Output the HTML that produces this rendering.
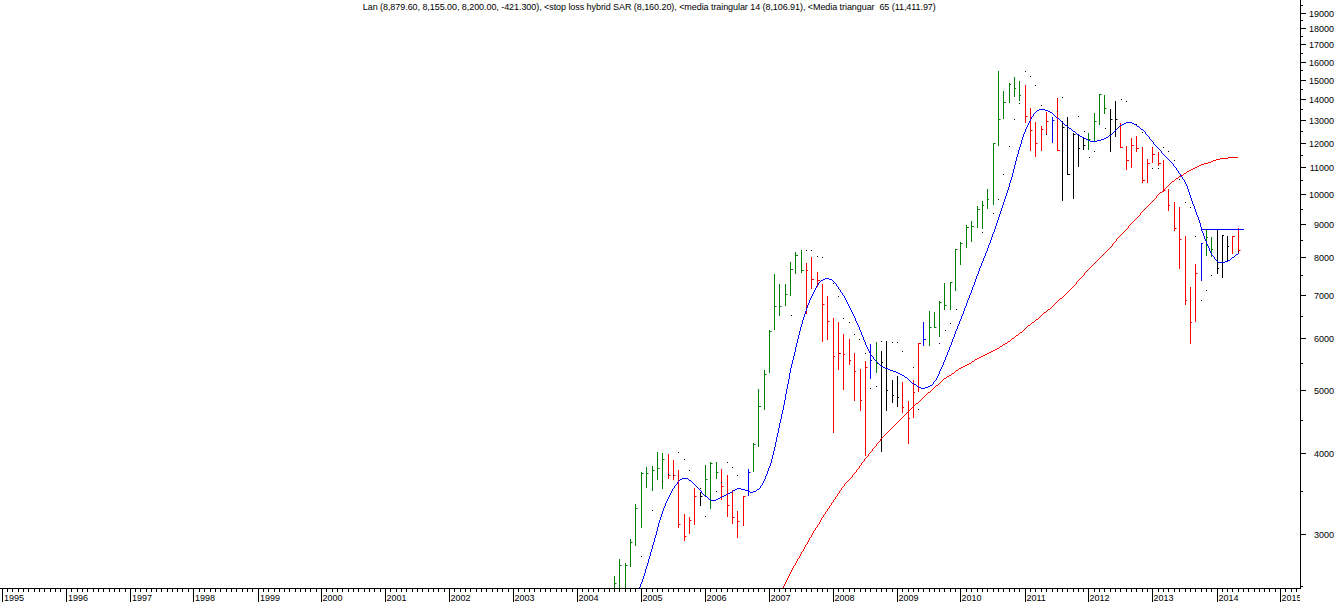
<!DOCTYPE html>
<html><head><meta charset="utf-8"><title>chart</title>
<style>
html,body{margin:0;padding:0;background:#fff;}
body{width:1338px;height:604px;overflow:hidden;position:relative;font-family:"Liberation Sans",sans-serif;}
svg{position:absolute;left:0;top:0;}
text{font-family:"Liberation Sans",sans-serif;font-size:9px;fill:#000;}
</style></head><body>
<svg width="1338" height="604" viewBox="0 0 1338 604">
<defs><clipPath id="cx"><rect x="0" y="580" width="1300" height="24"/></clipPath></defs>
<rect width="1338" height="604" fill="#fff"/>

<g shape-rendering="crispEdges">
<rect x="614" y="576" width="1" height="12" fill="#008000"/>
<rect x="615" y="583" width="1.5" height="1" fill="#008000" shape-rendering="auto"/>
<rect x="619" y="559" width="1" height="29" fill="#008000"/>
<rect x="620" y="565" width="1.5" height="1" fill="#008000" shape-rendering="auto"/>
<rect x="625" y="563" width="1" height="25" fill="#008000"/>
<rect x="626" y="565" width="1.5" height="1" fill="#008000" shape-rendering="auto"/>
<rect x="630" y="539" width="1" height="28" fill="#008000"/>
<rect x="631" y="542" width="1.5" height="1" fill="#008000" shape-rendering="auto"/>
<rect x="635" y="504" width="1" height="42" fill="#008000"/>
<rect x="636" y="508" width="1.5" height="1" fill="#008000" shape-rendering="auto"/>
<rect x="641" y="472" width="1" height="56" fill="#008000"/>
<rect x="642" y="473" width="1.5" height="1" fill="#008000" shape-rendering="auto"/>
<rect x="646" y="467" width="1" height="21" fill="#008000"/>
<rect x="647" y="473" width="1.5" height="1" fill="#008000" shape-rendering="auto"/>
<rect x="652" y="466" width="1" height="25" fill="#008000"/>
<rect x="653" y="470" width="1.5" height="1" fill="#008000" shape-rendering="auto"/>
<rect x="657" y="452" width="1" height="28" fill="#008000"/>
<rect x="658" y="468" width="1.5" height="1" fill="#008000" shape-rendering="auto"/>
<rect x="662" y="453" width="1" height="36" fill="#008000"/>
<rect x="663" y="459" width="1.5" height="1" fill="#008000" shape-rendering="auto"/>
<rect x="668" y="454" width="1" height="25" fill="#ff0000"/>
<rect x="669" y="475" width="1.5" height="1" fill="#ff0000" shape-rendering="auto"/>
<rect x="673" y="460" width="1" height="20" fill="#ff0000"/>
<rect x="674" y="475" width="1.5" height="1" fill="#ff0000" shape-rendering="auto"/>
<rect x="678" y="470" width="1" height="58" fill="#ff0000"/>
<rect x="679" y="524" width="1.5" height="1" fill="#ff0000" shape-rendering="auto"/>
<rect x="684" y="514" width="1" height="27" fill="#ff0000"/>
<rect x="685" y="536" width="1.5" height="1" fill="#ff0000" shape-rendering="auto"/>
<rect x="689" y="517" width="1" height="17" fill="#ff0000"/>
<rect x="690" y="520" width="1.5" height="1" fill="#ff0000" shape-rendering="auto"/>
<rect x="694" y="488" width="1" height="37" fill="#ff0000"/>
<rect x="695" y="496" width="1.5" height="1" fill="#ff0000" shape-rendering="auto"/>
<rect x="700" y="492" width="1" height="14" fill="#000000"/>
<rect x="701" y="496" width="1.5" height="1" fill="#000000" shape-rendering="auto"/>
<rect x="705" y="465" width="1" height="32" fill="#008000"/>
<rect x="706" y="479" width="1.5" height="1" fill="#008000" shape-rendering="auto"/>
<rect x="710" y="462" width="1" height="47" fill="#008000"/>
<rect x="711" y="463" width="1.5" height="1" fill="#008000" shape-rendering="auto"/>
<rect x="716" y="462" width="1" height="17" fill="#008000"/>
<rect x="717" y="472" width="1.5" height="1" fill="#008000" shape-rendering="auto"/>
<rect x="721" y="469" width="1" height="31" fill="#ff0000"/>
<rect x="722" y="486" width="1.5" height="1" fill="#ff0000" shape-rendering="auto"/>
<rect x="727" y="475" width="1" height="42" fill="#ff0000"/>
<rect x="728" y="505" width="1.5" height="1" fill="#ff0000" shape-rendering="auto"/>
<rect x="732" y="490" width="1" height="34" fill="#ff0000"/>
<rect x="733" y="517" width="1.5" height="1" fill="#ff0000" shape-rendering="auto"/>
<rect x="737" y="511" width="1" height="27" fill="#ff0000"/>
<rect x="738" y="521" width="1.5" height="1" fill="#ff0000" shape-rendering="auto"/>
<rect x="743" y="496" width="1" height="30" fill="#ff0000"/>
<rect x="744" y="496" width="1.5" height="1" fill="#ff0000" shape-rendering="auto"/>
<rect x="748" y="469" width="1" height="27" fill="#0000ff"/>
<rect x="749" y="472" width="1.5" height="1" fill="#0000ff" shape-rendering="auto"/>
<rect x="753" y="443" width="1" height="29" fill="#008000"/>
<rect x="754" y="444" width="1.5" height="1" fill="#008000" shape-rendering="auto"/>
<rect x="758" y="389" width="1" height="58" fill="#008000"/>
<rect x="759" y="406" width="2" height="1" fill="#008000"/>
<rect x="764" y="370" width="1" height="40" fill="#008000"/>
<rect x="765" y="374" width="1.5" height="1" fill="#008000" shape-rendering="auto"/>
<rect x="769" y="330" width="1" height="43" fill="#008000"/>
<rect x="770" y="331" width="1.5" height="1" fill="#008000" shape-rendering="auto"/>
<rect x="774" y="274" width="1" height="56" fill="#008000"/>
<rect x="775" y="306" width="1.5" height="1" fill="#008000" shape-rendering="auto"/>
<rect x="779" y="284" width="1" height="32" fill="#008000"/>
<rect x="780" y="306" width="1.5" height="1" fill="#008000" shape-rendering="auto"/>
<rect x="785" y="284" width="1" height="22" fill="#008000"/>
<rect x="786" y="294" width="1.5" height="1" fill="#008000" shape-rendering="auto"/>
<rect x="790" y="262" width="1" height="34" fill="#008000"/>
<rect x="791" y="269" width="2" height="1" fill="#008000"/>
<rect x="795" y="252" width="1" height="22" fill="#008000"/>
<rect x="796" y="255" width="2" height="1" fill="#008000"/>
<rect x="801" y="250" width="1" height="23" fill="#008000"/>
<rect x="802" y="270" width="2" height="1" fill="#008000"/>
<rect x="806" y="263" width="1" height="51" fill="#ff0000"/>
<rect x="807" y="270" width="1" height="1" fill="#ff0000"/>
<rect x="811" y="257" width="1" height="32" fill="#ff0000"/>
<rect x="812" y="279" width="2" height="1" fill="#ff0000"/>
<rect x="817" y="272" width="1" height="15" fill="#ff0000"/>
<rect x="818" y="280" width="2" height="1" fill="#ff0000"/>
<rect x="822" y="284" width="1" height="58" fill="#ff0000"/>
<rect x="823" y="304" width="1.5" height="1" fill="#ff0000" shape-rendering="auto"/>
<rect x="827" y="296" width="1" height="44" fill="#ff0000"/>
<rect x="828" y="321" width="1.5" height="1" fill="#ff0000" shape-rendering="auto"/>
<rect x="833" y="318" width="1" height="115" fill="#ff0000"/>
<rect x="834" y="356" width="1" height="1" fill="#ff0000"/>
<rect x="838" y="322" width="1" height="48" fill="#ff0000"/>
<rect x="839" y="353" width="2" height="1" fill="#ff0000"/>
<rect x="843" y="334" width="1" height="56" fill="#ff0000"/>
<rect x="844" y="354" width="1" height="1" fill="#ff0000"/>
<rect x="849" y="339" width="1" height="26" fill="#ff0000"/>
<rect x="850" y="360" width="1" height="1" fill="#ff0000"/>
<rect x="854" y="353" width="1" height="48" fill="#ff0000"/>
<rect x="855" y="371" width="1" height="1" fill="#ff0000"/>
<rect x="860" y="369" width="1" height="42" fill="#ff0000"/>
<rect x="861" y="400" width="1" height="1" fill="#ff0000"/>
<rect x="865" y="361" width="1" height="95" fill="#ff0000"/>
<rect x="866" y="367" width="1.5" height="1" fill="#ff0000" shape-rendering="auto"/>
<rect x="870" y="344" width="1" height="35" fill="#0000ff"/>
<rect x="871" y="360" width="1" height="1" fill="#0000ff"/>
<rect x="876" y="342" width="1" height="31" fill="#008000"/>
<rect x="877" y="363" width="1.5" height="1" fill="#008000" shape-rendering="auto"/>
<rect x="881" y="351" width="1" height="101" fill="#000000"/>
<rect x="882" y="362" width="1" height="1" fill="#000000"/>
<rect x="886" y="341" width="1" height="70" fill="#000000"/>
<rect x="887" y="390" width="1" height="1" fill="#000000"/>
<rect x="892" y="380" width="1" height="23" fill="#000000"/>
<rect x="893" y="395" width="1" height="1" fill="#000000"/>
<rect x="897" y="376" width="1" height="31" fill="#000000"/>
<rect x="898" y="397" width="1" height="1" fill="#000000"/>
<rect x="902" y="382" width="1" height="31" fill="#ff0000"/>
<rect x="903" y="407" width="1" height="1" fill="#ff0000"/>
<rect x="908" y="401" width="1" height="43" fill="#ff0000"/>
<rect x="909" y="418" width="1" height="1" fill="#ff0000"/>
<rect x="913" y="380" width="1" height="38" fill="#ff0000"/>
<rect x="914" y="392" width="1" height="1" fill="#ff0000"/>
<rect x="918" y="343" width="1" height="49" fill="#ff0000"/>
<rect x="919" y="343" width="2" height="1" fill="#ff0000"/>
<rect x="923" y="322" width="1" height="24" fill="#0000ff"/>
<rect x="924" y="339" width="2" height="1" fill="#0000ff"/>
<rect x="929" y="311" width="1" height="35" fill="#008000"/>
<rect x="930" y="327" width="1.5" height="1" fill="#008000" shape-rendering="auto"/>
<rect x="934" y="312" width="1" height="16" fill="#008000"/>
<rect x="935" y="327" width="1.5" height="1" fill="#008000" shape-rendering="auto"/>
<rect x="939" y="301" width="1" height="36" fill="#008000"/>
<rect x="940" y="302" width="1.5" height="1" fill="#008000" shape-rendering="auto"/>
<rect x="944" y="283" width="1" height="27" fill="#008000"/>
<rect x="945" y="305" width="1.5" height="1" fill="#008000" shape-rendering="auto"/>
<rect x="950" y="282" width="1" height="28" fill="#008000"/>
<rect x="951" y="282" width="1.5" height="1" fill="#008000" shape-rendering="auto"/>
<rect x="955" y="249" width="1" height="42" fill="#008000"/>
<rect x="956" y="249" width="1.5" height="1" fill="#008000" shape-rendering="auto"/>
<rect x="960" y="242" width="1" height="23" fill="#008000"/>
<rect x="961" y="243" width="1.5" height="1" fill="#008000" shape-rendering="auto"/>
<rect x="966" y="225" width="1" height="23" fill="#008000"/>
<rect x="967" y="227" width="2" height="1" fill="#008000"/>
<rect x="971" y="221" width="1" height="21" fill="#008000"/>
<rect x="972" y="226" width="2" height="1" fill="#008000"/>
<rect x="977" y="206" width="1" height="22" fill="#008000"/>
<rect x="978" y="209" width="2" height="1" fill="#008000"/>
<rect x="982" y="201" width="1" height="28" fill="#008000"/>
<rect x="983" y="205" width="1" height="1" fill="#008000"/>
<rect x="987" y="189" width="1" height="20" fill="#008000"/>
<rect x="988" y="199" width="1" height="1" fill="#008000"/>
<rect x="993" y="143" width="1" height="62" fill="#008000"/>
<rect x="994" y="143" width="1.5" height="1" fill="#008000" shape-rendering="auto"/>
<rect x="998" y="71" width="1" height="75" fill="#008000"/>
<rect x="999" y="119" width="1.5" height="1" fill="#008000" shape-rendering="auto"/>
<rect x="1003" y="91" width="1" height="28" fill="#008000"/>
<rect x="1004" y="102" width="2" height="1" fill="#008000"/>
<rect x="1009" y="83" width="1" height="20" fill="#008000"/>
<rect x="1010" y="84" width="1" height="1" fill="#008000"/>
<rect x="1014" y="77" width="1" height="20" fill="#008000"/>
<rect x="1015" y="88" width="1" height="1" fill="#008000"/>
<rect x="1019" y="81" width="1" height="20" fill="#008000"/>
<rect x="1020" y="95" width="1" height="1" fill="#008000"/>
<rect x="1025" y="85" width="1" height="38" fill="#ff0000"/>
<rect x="1026" y="116" width="1.5" height="1" fill="#ff0000" shape-rendering="auto"/>
<rect x="1030" y="108" width="1" height="43" fill="#ff0000"/>
<rect x="1031" y="130" width="1.5" height="1" fill="#ff0000" shape-rendering="auto"/>
<rect x="1035" y="122" width="1" height="35" fill="#ff0000"/>
<rect x="1036" y="143" width="1.5" height="1" fill="#ff0000" shape-rendering="auto"/>
<rect x="1041" y="126" width="1" height="25" fill="#ff0000"/>
<rect x="1042" y="129" width="1.5" height="1" fill="#ff0000" shape-rendering="auto"/>
<rect x="1046" y="112" width="1" height="23" fill="#ff0000"/>
<rect x="1047" y="121" width="1.5" height="1" fill="#ff0000" shape-rendering="auto"/>
<rect x="1052" y="117" width="1" height="26" fill="#0000ff"/>
<rect x="1053" y="120" width="1.5" height="1" fill="#0000ff" shape-rendering="auto"/>
<rect x="1057" y="98" width="1" height="53" fill="#ff0000"/>
<rect x="1058" y="150" width="2" height="1" fill="#ff0000"/>
<rect x="1062" y="121" width="1" height="80" fill="#000000"/>
<rect x="1063" y="127" width="1.5" height="1" fill="#000000" shape-rendering="auto"/>
<rect x="1067" y="117" width="1" height="58" fill="#000000"/>
<rect x="1068" y="174" width="2" height="1" fill="#000000"/>
<rect x="1073" y="133" width="1" height="66" fill="#000000"/>
<rect x="1074" y="134" width="1.5" height="1" fill="#000000" shape-rendering="auto"/>
<rect x="1078" y="135" width="1" height="32" fill="#000000"/>
<rect x="1079" y="148" width="1" height="1" fill="#000000"/>
<rect x="1083" y="138" width="1" height="12" fill="#000000"/>
<rect x="1084" y="145" width="1.5" height="1" fill="#000000" shape-rendering="auto"/>
<rect x="1088" y="133" width="1" height="17" fill="#008000"/>
<rect x="1089" y="139" width="1.5" height="1" fill="#008000" shape-rendering="auto"/>
<rect x="1094" y="113" width="1" height="28" fill="#008000"/>
<rect x="1095" y="121" width="1.5" height="1" fill="#008000" shape-rendering="auto"/>
<rect x="1099" y="94" width="1" height="31" fill="#008000"/>
<rect x="1100" y="94" width="1.5" height="1" fill="#008000" shape-rendering="auto"/>
<rect x="1104" y="95" width="1" height="19" fill="#008000"/>
<rect x="1105" y="108" width="1.5" height="1" fill="#008000" shape-rendering="auto"/>
<rect x="1110" y="109" width="1" height="43" fill="#000000"/>
<rect x="1111" y="119" width="1.5" height="1" fill="#000000" shape-rendering="auto"/>
<rect x="1115" y="101" width="1" height="36" fill="#000000"/>
<rect x="1116" y="119" width="1.5" height="1" fill="#000000" shape-rendering="auto"/>
<rect x="1120" y="123" width="1" height="25" fill="#ff0000"/>
<rect x="1121" y="147" width="2" height="1" fill="#ff0000"/>
<rect x="1126" y="146" width="1" height="24" fill="#ff0000"/>
<rect x="1127" y="160" width="2" height="1" fill="#ff0000"/>
<rect x="1131" y="138" width="1" height="30" fill="#ff0000"/>
<rect x="1132" y="145" width="2" height="1" fill="#ff0000"/>
<rect x="1136" y="136" width="1" height="16" fill="#ff0000"/>
<rect x="1137" y="148" width="2" height="1" fill="#ff0000"/>
<rect x="1142" y="147" width="1" height="36" fill="#ff0000"/>
<rect x="1143" y="180" width="2" height="1" fill="#ff0000"/>
<rect x="1147" y="159" width="1" height="24" fill="#ff0000"/>
<rect x="1148" y="163" width="2" height="1" fill="#ff0000"/>
<rect x="1152" y="147" width="1" height="16" fill="#ff0000"/>
<rect x="1153" y="154" width="2" height="1" fill="#ff0000"/>
<rect x="1158" y="152" width="1" height="14" fill="#ff0000"/>
<rect x="1159" y="163" width="2" height="1" fill="#ff0000"/>
<rect x="1163" y="160" width="1" height="32" fill="#ff0000"/>
<rect x="1164" y="190" width="1.5" height="1" fill="#ff0000" shape-rendering="auto"/>
<rect x="1168" y="189" width="1" height="22" fill="#ff0000"/>
<rect x="1169" y="205" width="1" height="1" fill="#ff0000"/>
<rect x="1174" y="202" width="1" height="29" fill="#ff0000"/>
<rect x="1175" y="228" width="1.5" height="1" fill="#ff0000" shape-rendering="auto"/>
<rect x="1179" y="207" width="1" height="62" fill="#ff0000"/>
<rect x="1180" y="239" width="1.5" height="1" fill="#ff0000" shape-rendering="auto"/>
<rect x="1185" y="236" width="1" height="69" fill="#ff0000"/>
<rect x="1186" y="300" width="1" height="1" fill="#ff0000"/>
<rect x="1190" y="287" width="1" height="57" fill="#ff0000"/>
<rect x="1191" y="322" width="1" height="1" fill="#ff0000"/>
<rect x="1195" y="264" width="1" height="58" fill="#ff0000"/>
<rect x="1196" y="273" width="1.5" height="1" fill="#ff0000" shape-rendering="auto"/>
<rect x="1201" y="243" width="1" height="38" fill="#0000ff"/>
<rect x="1202" y="243" width="1" height="1" fill="#0000ff"/>
<rect x="1206" y="229" width="1" height="27" fill="#008000"/>
<rect x="1207" y="237" width="1" height="1" fill="#008000"/>
<rect x="1211" y="237" width="1" height="20" fill="#008000"/>
<rect x="1212" y="249" width="1" height="1" fill="#008000"/>
<rect x="1217" y="229" width="1" height="45" fill="#000000"/>
<rect x="1218" y="268" width="1" height="1" fill="#000000"/>
<rect x="1222" y="235" width="1" height="43" fill="#000000"/>
<rect x="1223" y="235" width="1" height="1" fill="#000000"/>
<rect x="1227" y="236" width="1" height="25" fill="#000000"/>
<rect x="1228" y="246" width="1" height="1" fill="#000000"/>
<rect x="1232" y="236" width="1" height="18" fill="#ff0000"/>
<rect x="1233" y="236" width="2" height="1" fill="#ff0000"/>
<rect x="1238" y="228" width="1" height="25" fill="#ff0000"/>
<rect x="1239" y="250" width="1.5" height="1" fill="#ff0000" shape-rendering="auto"/>
<rect x="1238" y="251" width="1" height="1" fill="#000"/>
<rect x="668" y="474" width="1" height="1" fill="#000"/>
<rect x="673" y="475" width="1" height="1" fill="#000"/>
<rect x="652" y="510" width="1" height="1" fill="#000"/>
<rect x="641" y="556" width="1" height="1" fill="#000"/>
<rect x="705" y="516" width="1" height="1" fill="#000"/>
<rect x="700" y="488" width="1" height="1" fill="#000"/>
<rect x="716" y="491" width="1" height="1" fill="#000"/>
<rect x="662" y="481" width="1" height="1" fill="#000"/>
<rect x="721" y="482" width="1" height="1" fill="#000"/>
<rect x="737" y="475" width="1" height="1" fill="#000"/>
<rect x="678" y="452" width="1" height="1" fill="#000"/>
<rect x="684" y="459" width="1" height="1" fill="#000"/>
<rect x="689" y="470" width="1" height="1" fill="#000"/>
<rect x="727" y="462" width="1" height="1" fill="#000"/>
<rect x="732" y="467" width="1" height="1" fill="#000"/>
<rect x="865" y="353" width="1" height="1" fill="#000"/>
<rect x="870" y="388" width="1" height="1" fill="#000"/>
<rect x="876" y="386" width="1" height="1" fill="#000"/>
<rect x="806" y="250" width="1" height="1" fill="#000"/>
<rect x="811" y="250" width="1" height="1" fill="#000"/>
<rect x="817" y="256" width="1" height="1" fill="#000"/>
<rect x="822" y="257" width="1" height="1" fill="#000"/>
<rect x="833" y="283" width="1" height="1" fill="#000"/>
<rect x="838" y="296" width="1" height="1" fill="#000"/>
<rect x="843" y="318" width="1" height="1" fill="#000"/>
<rect x="849" y="322" width="1" height="1" fill="#000"/>
<rect x="854" y="334" width="1" height="1" fill="#000"/>
<rect x="859" y="339" width="1" height="1" fill="#000"/>
<rect x="865" y="353" width="1" height="1" fill="#000"/>
<rect x="791" y="315" width="1" height="1" fill="#000"/>
<rect x="881" y="341" width="1" height="1" fill="#000"/>
<rect x="892" y="342" width="1" height="1" fill="#000"/>
<rect x="897" y="342" width="1" height="1" fill="#000"/>
<rect x="902" y="351" width="1" height="1" fill="#000"/>
<rect x="939" y="343" width="1" height="1" fill="#000"/>
<rect x="945" y="330" width="1" height="1" fill="#000"/>
<rect x="950" y="323" width="1" height="1" fill="#000"/>
<rect x="956" y="309" width="1" height="1" fill="#000"/>
<rect x="982" y="232" width="1" height="1" fill="#000"/>
<rect x="913" y="367" width="1" height="1" fill="#000"/>
<rect x="918" y="409" width="1" height="1" fill="#000"/>
<rect x="924" y="396" width="1" height="1" fill="#000"/>
<rect x="1025" y="71" width="1" height="1" fill="#000"/>
<rect x="1030" y="76" width="1" height="1" fill="#000"/>
<rect x="1035" y="85" width="1" height="1" fill="#000"/>
<rect x="1062" y="97" width="1" height="1" fill="#000"/>
<rect x="1019" y="103" width="1" height="1" fill="#000"/>
<rect x="1041" y="105" width="1" height="1" fill="#000"/>
<rect x="1014" y="119" width="1" height="1" fill="#000"/>
<rect x="1057" y="111" width="1" height="1" fill="#000"/>
<rect x="1078" y="116" width="1" height="1" fill="#000"/>
<rect x="1084" y="131" width="1" height="1" fill="#000"/>
<rect x="1009" y="146" width="1" height="1" fill="#000"/>
<rect x="1003" y="174" width="1" height="1" fill="#000"/>
<rect x="1094" y="151" width="1" height="1" fill="#000"/>
<rect x="1089" y="157" width="1" height="1" fill="#000"/>
<rect x="1099" y="140" width="1" height="1" fill="#000"/>
<rect x="1105" y="128" width="1" height="1" fill="#000"/>
<rect x="1121" y="99" width="1" height="1" fill="#000"/>
<rect x="1126" y="101" width="1" height="1" fill="#000"/>
<rect x="1136" y="124" width="1" height="1" fill="#000"/>
<rect x="1142" y="132" width="1" height="1" fill="#000"/>
<rect x="1163" y="147" width="1" height="1" fill="#000"/>
<rect x="1168" y="151" width="1" height="1" fill="#000"/>
<rect x="1174" y="160" width="1" height="1" fill="#000"/>
<rect x="1152" y="168" width="1" height="1" fill="#000"/>
<rect x="1158" y="168" width="1" height="1" fill="#000"/>
<rect x="1052" y="134" width="1" height="1" fill="#000"/>
<rect x="1046" y="134" width="1" height="1" fill="#000"/>
<rect x="1179" y="179" width="1" height="1" fill="#000"/>
<rect x="998" y="199" width="1" height="1" fill="#000"/>
<rect x="993" y="213" width="1" height="1" fill="#000"/>
<rect x="982" y="232" width="1" height="1" fill="#000"/>
<rect x="1185" y="202" width="1" height="1" fill="#000"/>
<rect x="1190" y="207" width="1" height="1" fill="#000"/>
<rect x="1195" y="236" width="1" height="1" fill="#000"/>
<rect x="1211" y="275" width="1" height="1" fill="#000"/>
<rect x="1217" y="268" width="1" height="1" fill="#000"/>
<rect x="1201" y="300" width="1" height="1" fill="#000"/>
<rect x="1206" y="290" width="1" height="1" fill="#000"/>
</g>
<path d="M783.5 586v2M784.5 584v2M785.5 582v2M786.5 580v2M787.5 578v2M788.5 576v2M789.5 574v2M790.5 572v2M791.5 570v2M792.5 568v2M793.5 566v2M794.5 565v1M795.5 563v2M796.5 561v2M797.5 559v2M798.5 558v1M799.5 556v2M800.5 554v2M801.5 552v2M802.5 551v1M803.5 549v2M804.5 547v2M805.5 545v2M806.5 544v1M807.5 542v2M808.5 540v2M809.5 538v2M810.5 537v1M811.5 535v2M812.5 533v2M813.5 531v2M814.5 530v1M815.5 528v2M816.5 527v1M817.5 525v2M818.5 524v1M819.5 522v2M820.5 520v2M821.5 518v2M822.5 517v1M823.5 515v2M824.5 514v1M825.5 512v2M826.5 511v1M827.5 509v2M828.5 508v1M829.5 506v2M830.5 505v1M831.5 503v2M832.5 502v1M833.5 500v2M834.5 499v1M835.5 497v2M836.5 496v1M837.5 494v2M838.5 493v1M839.5 491v2M840.5 490v1M841.5 488v2M842.5 487v1M843.5 486v1M844.5 484v2M845.5 483v1M846.5 482v1M847.5 481v1M848.5 480v1M849.5 479v1M850.5 478v1M851.5 477v1M852.5 475v2M853.5 474v1M854.5 473v1M855.5 472v1M856.5 470v2M857.5 469v1M858.5 468v1M859.5 466v2M860.5 465v1M861.5 463v2M862.5 462v1M863.5 461v1M864.5 459v2M865.5 458v1M866.5 457v1M867.5 456v1M868.5 454v2M869.5 453v1M870.5 452v1M871.5 451v1M872.5 449v2M873.5 448v1M874.5 447v1M875.5 446v1M876.5 444v2M877.5 443v1M878.5 442v1M879.5 441v1M880.5 439v2M881.5 438v1M882.5 437v1M883.5 436v1M884.5 435v1M885.5 434v1M886.5 433v1M887.5 432v1M888.5 431v1M889.5 430v1M890.5 429v1M891.5 428v1M892.5 427v1M893.5 426v1M894.5 425v1M895.5 424v1M896.5 423v1M897.5 422v1M898.5 421v1M899.5 420v1M900.5 419v1M901.5 418v1M902.5 417v1M903.5 416v1M904.5 415v1M905.5 414v1M906.5 413v1M907.5 412v1M908.5 411v1M909.5 410v1M910.5 409v1M911.5 408v1M912.5 407v1M913.5 406v1M914.5 405v1M915.5 404v1M916.5 403v1M917.5 403v1M918.5 402v1M919.5 401v1M920.5 400v1M921.5 399v1M922.5 398v1M923.5 397v1M924.5 396v1M925.5 395v1M926.5 394v1M927.5 393v1M928.5 392v1M929.5 392v1M930.5 391v1M931.5 390v1M932.5 389v1M933.5 388v1M934.5 387v1M935.5 386v1M936.5 385v1M937.5 385v1M938.5 384v1M939.5 383v1M940.5 382v1M941.5 381v1M942.5 380v1M943.5 379v1M944.5 378v1M945.5 378v1M946.5 377v1M947.5 376v1M948.5 376v1M949.5 375v1M950.5 375v1M951.5 374v1M952.5 373v1M953.5 373v1M954.5 372v1M955.5 371v1M956.5 370v1M957.5 370v1M958.5 369v1M959.5 368v1M960.5 368v1M961.5 367v1M962.5 367v1M963.5 366v1M964.5 366v1M965.5 365v1M966.5 365v1M967.5 364v1M968.5 364v1M969.5 363v1M970.5 363v1M971.5 362v1M972.5 361v1M973.5 361v1M974.5 360v1M975.5 359v1M976.5 359v1M977.5 358v1M978.5 358v1M979.5 357v1M980.5 357v1M981.5 356v1M982.5 356v1M983.5 355v1M984.5 355v1M985.5 354v1M986.5 354v1M987.5 353v1M988.5 353v1M989.5 352v1M990.5 352v1M991.5 351v1M992.5 351v1M993.5 350v1M994.5 350v1M995.5 349v1M996.5 349v1M997.5 348v1M998.5 348v1M999.5 347v1M1000.5 346v1M1001.5 346v1M1002.5 345v1M1003.5 344v1M1004.5 344v1M1005.5 343v1M1006.5 343v1M1007.5 342v1M1008.5 341v1M1009.5 341v1M1010.5 340v1M1011.5 339v1M1012.5 338v1M1013.5 338v1M1014.5 337v1M1015.5 336v1M1016.5 335v1M1017.5 335v1M1018.5 334v1M1019.5 333v1M1020.5 332v1M1021.5 332v1M1022.5 331v1M1023.5 330v1M1024.5 329v1M1025.5 328v1M1026.5 327v1M1027.5 326v1M1028.5 325v1M1029.5 325v1M1030.5 324v1M1031.5 323v1M1032.5 322v1M1033.5 322v1M1034.5 321v1M1035.5 320v1M1036.5 319v1M1037.5 319v1M1038.5 318v1M1039.5 317v1M1040.5 316v1M1041.5 315v1M1042.5 314v1M1043.5 313v1M1044.5 312v1M1045.5 312v1M1046.5 311v1M1047.5 310v1M1048.5 309v1M1049.5 309v1M1050.5 308v1M1051.5 307v1M1052.5 306v1M1053.5 305v1M1054.5 304v1M1055.5 303v1M1056.5 302v1M1057.5 301v1M1058.5 300v1M1059.5 299v1M1060.5 298v1M1061.5 298v1M1062.5 297v1M1063.5 296v1M1064.5 295v1M1065.5 294v1M1066.5 293v1M1067.5 292v1M1068.5 291v1M1069.5 290v1M1070.5 289v1M1071.5 288v1M1072.5 287v1M1073.5 286v1M1074.5 285v1M1075.5 284v1M1076.5 282v2M1077.5 281v1M1078.5 280v1M1079.5 279v1M1080.5 278v1M1081.5 277v1M1082.5 276v1M1083.5 275v1M1084.5 273v2M1085.5 272v1M1086.5 271v1M1087.5 270v1M1088.5 269v1M1089.5 268v1M1090.5 267v1M1091.5 266v1M1092.5 265v1M1093.5 264v1M1094.5 263v1M1095.5 262v1M1096.5 261v1M1097.5 260v1M1098.5 259v1M1099.5 258v1M1100.5 257v1M1101.5 256v1M1102.5 255v1M1103.5 254v1M1104.5 253v1M1105.5 252v1M1106.5 251v1M1107.5 250v1M1108.5 249v1M1109.5 248v1M1110.5 247v1M1111.5 246v1M1112.5 244v2M1113.5 243v1M1114.5 242v1M1115.5 241v1M1116.5 239v2M1117.5 238v1M1118.5 237v1M1119.5 236v1M1120.5 235v1M1121.5 234v1M1122.5 233v1M1123.5 232v1M1124.5 231v1M1125.5 230v1M1126.5 229v1M1127.5 228v1M1128.5 226v2M1129.5 225v1M1130.5 224v1M1131.5 223v1M1132.5 222v1M1133.5 221v1M1134.5 220v1M1135.5 219v1M1136.5 218v1M1137.5 217v1M1138.5 216v1M1139.5 215v1M1140.5 213v2M1141.5 212v1M1142.5 211v1M1143.5 210v1M1144.5 209v1M1145.5 208v1M1146.5 207v1M1147.5 206v1M1148.5 205v1M1149.5 204v1M1150.5 203v1M1151.5 202v1M1152.5 201v1M1153.5 200v1M1154.5 199v1M1155.5 198v1M1156.5 196v2M1157.5 195v1M1158.5 194v1M1159.5 193v1M1160.5 192v1M1161.5 192v1M1162.5 191v1M1163.5 190v1M1164.5 189v1M1165.5 188v1M1166.5 187v1M1167.5 186v1M1168.5 185v1M1169.5 184v1M1170.5 183v1M1171.5 182v1M1172.5 181v1M1173.5 181v1M1174.5 180v1M1175.5 179v1M1176.5 178v1M1177.5 178v1M1178.5 177v1M1179.5 176v1M1180.5 176v1M1181.5 175v1M1182.5 175v1M1183.5 174v1M1184.5 173v1M1185.5 173v1M1186.5 172v1M1187.5 171v1M1188.5 171v1M1189.5 170v1M1190.5 170v1M1191.5 169v1M1192.5 169v1M1193.5 168v1M1194.5 168v1M1195.5 167v1M1196.5 167v1M1197.5 166v1M1198.5 166v1M1199.5 165v1M1200.5 165v1M1201.5 164v1M1202.5 164v1M1203.5 164v1M1204.5 163v1M1205.5 163v1M1206.5 163v1M1207.5 163v1M1208.5 162v1M1209.5 162v1M1210.5 162v1M1211.5 161v1M1212.5 161v1M1213.5 160v1M1214.5 160v1M1215.5 160v1M1216.5 159v1M1217.5 159v1M1218.5 159v1M1219.5 159v1M1220.5 158v1M1221.5 158v1M1222.5 158v1M1223.5 158v1M1224.5 158v1M1225.5 158v1M1226.5 158v1M1227.5 158v1M1228.5 157v1M1229.5 157v1M1230.5 157v1M1231.5 157v1M1232.5 157v1M1233.5 157v1M1234.5 157v1M1235.5 157v1M1236.5 157v1M1237.5 157v1" fill="none" stroke="#ff0000" stroke-width="1" shape-rendering="crispEdges"/>
<path d="M639.5 587v1M640.5 584v3M641.5 582v2M642.5 579v3M643.5 576v3M644.5 573v3M645.5 569v4M646.5 566v3M647.5 563v3M648.5 559v4M649.5 556v3M650.5 552v4M651.5 549v3M652.5 545v4M653.5 542v3M654.5 538v4M655.5 535v3M656.5 531v4M657.5 527v4M658.5 523v4M659.5 520v3M660.5 517v3M661.5 514v3M662.5 511v3M663.5 508v3M664.5 506v2M665.5 503v3M666.5 501v2M667.5 499v2M668.5 497v2M669.5 495v2M670.5 493v2M671.5 491v2M672.5 489v2M673.5 488v1M674.5 486v2M675.5 485v1M676.5 484v1M677.5 482v2M678.5 481v1M679.5 480v1M680.5 479v1M681.5 479v1M682.5 478v1M683.5 478v1M684.5 478v1M685.5 478v1M686.5 478v1M687.5 478v1M688.5 479v1M689.5 480v1M690.5 480v1M691.5 481v1M692.5 482v1M693.5 483v1M694.5 484v1M695.5 485v1M696.5 486v1M697.5 487v1M698.5 488v1M699.5 489v1M700.5 490v1M701.5 491v2M702.5 493v1M703.5 494v1M704.5 495v1M705.5 496v1M706.5 496v1M707.5 497v1M708.5 498v1M709.5 499v1M710.5 499v1M711.5 500v1M712.5 500v1M713.5 500v1M714.5 500v1M715.5 500v1M716.5 499v1M717.5 499v1M718.5 498v1M719.5 498v1M720.5 497v1M721.5 497v1M722.5 496v1M723.5 496v1M724.5 495v1M725.5 495v1M726.5 494v1M727.5 494v1M728.5 493v1M729.5 493v1M730.5 492v1M731.5 492v1M732.5 491v1M733.5 490v1M734.5 490v1M735.5 489v1M736.5 489v1M737.5 488v1M738.5 488v1M739.5 488v1M740.5 488v1M741.5 489v1M742.5 489v1M743.5 489v1M744.5 489v1M745.5 490v1M746.5 490v1M747.5 490v1M748.5 491v1M749.5 491v1M750.5 492v1M751.5 492v1M752.5 492v1M753.5 491v1M754.5 491v1M755.5 491v1M756.5 490v1M757.5 489v1M758.5 489v1M759.5 488v1M760.5 486v2M761.5 485v1M762.5 483v2M763.5 481v2M764.5 479v2M765.5 476v3M766.5 474v2M767.5 471v3M768.5 468v3M769.5 466v2M770.5 463v3M771.5 459v4M772.5 455v4M773.5 451v4M774.5 447v4M775.5 442v5M776.5 437v5M777.5 433v4M778.5 428v5M779.5 423v5M780.5 419v4M781.5 414v5M782.5 410v4M783.5 405v5M784.5 400v5M785.5 394v6M786.5 389v5M787.5 384v5M788.5 379v5M789.5 373v6M790.5 368v5M791.5 364v4M792.5 360v4M793.5 356v4M794.5 352v4M795.5 347v5M796.5 343v4M797.5 339v4M798.5 335v4M799.5 331v4M800.5 327v4M801.5 324v3M802.5 320v4M803.5 317v3M804.5 314v3M805.5 311v3M806.5 308v3M807.5 305v3M808.5 303v2M809.5 300v3M810.5 298v2M811.5 296v2M812.5 294v2M813.5 292v2M814.5 290v2M815.5 288v2M816.5 286v2M817.5 285v1M818.5 283v2M819.5 282v1M820.5 281v1M821.5 280v1M822.5 280v1M823.5 279v1M824.5 279v1M825.5 278v1M826.5 278v1M827.5 278v1M828.5 278v1M829.5 279v1M830.5 279v1M831.5 279v1M832.5 280v1M833.5 281v1M834.5 282v1M835.5 283v1M836.5 284v2M837.5 286v1M838.5 287v2M839.5 289v1M840.5 290v2M841.5 292v1M842.5 293v2M843.5 295v1M844.5 296v2M845.5 298v2M846.5 300v2M847.5 302v2M848.5 304v2M849.5 306v2M850.5 308v2M851.5 310v2M852.5 312v2M853.5 314v2M854.5 316v2M855.5 318v3M856.5 321v2M857.5 323v2M858.5 325v2M859.5 327v3M860.5 330v2M861.5 332v3M862.5 335v2M863.5 337v3M864.5 340v2M865.5 342v3M866.5 345v2M867.5 347v2M868.5 349v2M869.5 351v2M870.5 353v2M871.5 355v1M872.5 356v1M873.5 357v2M874.5 359v1M875.5 360v1M876.5 361v1M877.5 362v1M878.5 363v1M879.5 364v1M880.5 365v1M881.5 366v1M882.5 366v1M883.5 367v1M884.5 367v1M885.5 368v1M886.5 368v1M887.5 368v1M888.5 369v1M889.5 369v1M890.5 370v1M891.5 370v1M892.5 370v1M893.5 371v1M894.5 371v1M895.5 371v1M896.5 372v1M897.5 372v1M898.5 373v1M899.5 373v1M900.5 374v1M901.5 374v1M902.5 375v1M903.5 375v1M904.5 376v1M905.5 377v1M906.5 377v1M907.5 378v1M908.5 379v1M909.5 380v1M910.5 381v1M911.5 382v1M912.5 383v1M913.5 383v1M914.5 384v1M915.5 384v1M916.5 385v1M917.5 386v1M918.5 386v1M919.5 387v1M920.5 387v1M921.5 388v1M922.5 388v1M923.5 388v1M924.5 388v1M925.5 387v1M926.5 387v1M927.5 387v1M928.5 386v1M929.5 386v1M930.5 385v1M931.5 385v1M932.5 384v1M933.5 382v2M934.5 381v1M935.5 380v1M936.5 378v2M937.5 376v2M938.5 374v2M939.5 371v3M940.5 369v2M941.5 367v2M942.5 365v2M943.5 362v3M944.5 360v2M945.5 357v3M946.5 355v2M947.5 352v3M948.5 350v2M949.5 347v3M950.5 345v2M951.5 342v3M952.5 339v3M953.5 337v2M954.5 334v3M955.5 331v3M956.5 329v2M957.5 326v3M958.5 324v2M959.5 321v3M960.5 319v2M961.5 316v3M962.5 314v2M963.5 311v3M964.5 308v3M965.5 306v2M966.5 303v3M967.5 300v3M968.5 298v2M969.5 295v3M970.5 293v2M971.5 290v3M972.5 287v3M973.5 285v2M974.5 282v3M975.5 279v3M976.5 276v3M977.5 274v2M978.5 271v3M979.5 268v3M980.5 266v2M981.5 263v3M982.5 261v2M983.5 258v3M984.5 256v2M985.5 253v3M986.5 251v2M987.5 248v3M988.5 245v3M989.5 243v2M990.5 240v3M991.5 237v3M992.5 234v3M993.5 232v2M994.5 229v3M995.5 226v3M996.5 223v3M997.5 220v3M998.5 217v3M999.5 214v3M1000.5 211v3M1001.5 208v3M1002.5 205v3M1003.5 202v3M1004.5 199v3M1005.5 196v3M1006.5 193v3M1007.5 190v3M1008.5 187v3M1009.5 183v4M1010.5 180v3M1011.5 177v3M1012.5 173v4M1013.5 169v4M1014.5 165v4M1015.5 161v4M1016.5 157v4M1017.5 154v3M1018.5 150v4M1019.5 147v3M1020.5 144v3M1021.5 140v4M1022.5 137v3M1023.5 134v3M1024.5 132v2M1025.5 129v3M1026.5 127v2M1027.5 125v2M1028.5 123v2M1029.5 121v2M1030.5 119v2M1031.5 117v2M1032.5 116v1M1033.5 114v2M1034.5 113v1M1035.5 112v1M1036.5 111v1M1037.5 110v1M1038.5 110v1M1039.5 109v1M1040.5 109v1M1041.5 109v1M1042.5 109v1M1043.5 109v1M1044.5 109v1M1045.5 110v1M1046.5 110v1M1047.5 110v1M1048.5 111v1M1049.5 111v1M1050.5 112v1M1051.5 112v1M1052.5 113v1M1053.5 114v1M1054.5 115v1M1055.5 116v1M1056.5 117v1M1057.5 118v1M1058.5 118v1M1059.5 119v1M1060.5 120v1M1061.5 121v1M1062.5 122v1M1063.5 123v1M1064.5 124v1M1065.5 125v1M1066.5 125v1M1067.5 126v1M1068.5 127v1M1069.5 128v1M1070.5 128v1M1071.5 129v1M1072.5 130v1M1073.5 131v1M1074.5 131v1M1075.5 132v1M1076.5 133v1M1077.5 134v1M1078.5 134v1M1079.5 135v1M1080.5 136v1M1081.5 136v1M1082.5 137v1M1083.5 137v1M1084.5 138v1M1085.5 138v1M1086.5 139v1M1087.5 139v1M1088.5 140v1M1089.5 140v1M1090.5 141v1M1091.5 141v1M1092.5 141v1M1093.5 141v1M1094.5 141v1M1095.5 141v1M1096.5 141v1M1097.5 140v1M1098.5 140v1M1099.5 140v1M1100.5 140v1M1101.5 139v1M1102.5 139v1M1103.5 139v1M1104.5 138v1M1105.5 138v1M1106.5 137v1M1107.5 137v1M1108.5 136v1M1109.5 135v1M1110.5 135v1M1111.5 134v1M1112.5 133v1M1113.5 132v1M1114.5 131v1M1115.5 130v1M1116.5 129v1M1117.5 128v1M1118.5 127v1M1119.5 126v1M1120.5 125v1M1121.5 125v1M1122.5 124v1M1123.5 124v1M1124.5 123v1M1125.5 123v1M1126.5 122v1M1127.5 122v1M1128.5 122v1M1129.5 122v1M1130.5 122v1M1131.5 122v1M1132.5 123v1M1133.5 123v1M1134.5 124v1M1135.5 124v1M1136.5 125v1M1137.5 126v1M1138.5 126v1M1139.5 127v1M1140.5 128v1M1141.5 129v1M1142.5 129v1M1143.5 130v1M1144.5 131v1M1145.5 132v2M1146.5 134v1M1147.5 135v1M1148.5 136v1M1149.5 137v2M1150.5 139v1M1151.5 140v1M1152.5 141v1M1153.5 142v2M1154.5 144v1M1155.5 145v1M1156.5 146v1M1157.5 147v1M1158.5 148v1M1159.5 149v1M1160.5 150v1M1161.5 151v2M1162.5 153v1M1163.5 154v1M1164.5 155v1M1165.5 156v1M1166.5 157v1M1167.5 158v1M1168.5 159v1M1169.5 160v1M1170.5 161v1M1171.5 162v1M1172.5 163v1M1173.5 164v2M1174.5 166v1M1175.5 167v1M1176.5 168v2M1177.5 170v1M1178.5 171v2M1179.5 173v1M1180.5 174v2M1181.5 176v1M1182.5 177v2M1183.5 179v1M1184.5 180v2M1185.5 182v2M1186.5 184v2M1187.5 186v3M1188.5 189v3M1189.5 192v3M1190.5 195v3M1191.5 198v3M1192.5 201v3M1193.5 204v2M1194.5 206v3M1195.5 209v3M1196.5 212v3M1197.5 215v2M1198.5 217v3M1199.5 220v3M1200.5 223v4M1201.5 227v4M1202.5 231v2M1203.5 233v3M1204.5 236v3M1205.5 239v2M1206.5 241v3M1207.5 244v2M1208.5 246v2M1209.5 248v3M1210.5 251v2M1211.5 253v2M1212.5 255v1M1213.5 256v1M1214.5 257v2M1215.5 259v1M1216.5 260v1M1217.5 261v1M1218.5 262v1M1219.5 262v1M1220.5 262v1M1221.5 262v1M1222.5 262v1M1223.5 262v1M1224.5 262v1M1225.5 261v1M1226.5 261v1M1227.5 261v1M1228.5 260v1M1229.5 260v1M1230.5 259v1M1231.5 258v1M1232.5 257v1M1233.5 257v1M1234.5 256v1M1235.5 255v1M1236.5 254v1M1237.5 254v1M1238.5 253v1" fill="none" stroke="#0000ff" stroke-width="1" shape-rendering="crispEdges"/>
<rect x="1201" y="229" width="43" height="1" fill="#0000ff" shape-rendering="crispEdges"/>
<g shape-rendering="crispEdges" fill="#000">
<rect x="0" y="588" width="1301" height="1"/>
<rect x="1300" y="0" width="1" height="589"/>
<rect x="2" y="588" width="1" height="14"/>
<rect x="7" y="588" width="1" height="4"/>
<rect x="12" y="588" width="1" height="4"/>
<rect x="18" y="588" width="1" height="4"/>
<rect x="23" y="588" width="1" height="4"/>
<rect x="28" y="588" width="1" height="4"/>
<rect x="34" y="588" width="1" height="4"/>
<rect x="39" y="588" width="1" height="4"/>
<rect x="44" y="588" width="1" height="4"/>
<rect x="50" y="588" width="1" height="4"/>
<rect x="55" y="588" width="1" height="4"/>
<rect x="60" y="588" width="1" height="4"/>
<rect x="66" y="588" width="1" height="14"/>
<rect x="71" y="588" width="1" height="4"/>
<rect x="77" y="588" width="1" height="4"/>
<rect x="82" y="588" width="1" height="4"/>
<rect x="87" y="588" width="1" height="4"/>
<rect x="93" y="588" width="1" height="4"/>
<rect x="98" y="588" width="1" height="4"/>
<rect x="103" y="588" width="1" height="4"/>
<rect x="109" y="588" width="1" height="4"/>
<rect x="114" y="588" width="1" height="4"/>
<rect x="119" y="588" width="1" height="4"/>
<rect x="125" y="588" width="1" height="4"/>
<rect x="130" y="588" width="1" height="14"/>
<rect x="135" y="588" width="1" height="4"/>
<rect x="140" y="588" width="1" height="4"/>
<rect x="146" y="588" width="1" height="4"/>
<rect x="151" y="588" width="1" height="4"/>
<rect x="156" y="588" width="1" height="4"/>
<rect x="161" y="588" width="1" height="4"/>
<rect x="167" y="588" width="1" height="4"/>
<rect x="172" y="588" width="1" height="4"/>
<rect x="177" y="588" width="1" height="4"/>
<rect x="182" y="588" width="1" height="4"/>
<rect x="188" y="588" width="1" height="4"/>
<rect x="193" y="588" width="1" height="14"/>
<rect x="199" y="588" width="1" height="4"/>
<rect x="204" y="588" width="1" height="4"/>
<rect x="210" y="588" width="1" height="4"/>
<rect x="215" y="588" width="1" height="4"/>
<rect x="220" y="588" width="1" height="4"/>
<rect x="226" y="588" width="1" height="4"/>
<rect x="231" y="588" width="1" height="4"/>
<rect x="236" y="588" width="1" height="4"/>
<rect x="242" y="588" width="1" height="4"/>
<rect x="247" y="588" width="1" height="4"/>
<rect x="252" y="588" width="1" height="4"/>
<rect x="258" y="588" width="1" height="14"/>
<rect x="263" y="588" width="1" height="4"/>
<rect x="268" y="588" width="1" height="4"/>
<rect x="274" y="588" width="1" height="4"/>
<rect x="279" y="588" width="1" height="4"/>
<rect x="284" y="588" width="1" height="4"/>
<rect x="289" y="588" width="1" height="4"/>
<rect x="295" y="588" width="1" height="4"/>
<rect x="300" y="588" width="1" height="4"/>
<rect x="305" y="588" width="1" height="4"/>
<rect x="310" y="588" width="1" height="4"/>
<rect x="316" y="588" width="1" height="4"/>
<rect x="321" y="588" width="1" height="14"/>
<rect x="326" y="588" width="1" height="4"/>
<rect x="332" y="588" width="1" height="4"/>
<rect x="337" y="588" width="1" height="4"/>
<rect x="342" y="588" width="1" height="4"/>
<rect x="348" y="588" width="1" height="4"/>
<rect x="353" y="588" width="1" height="4"/>
<rect x="358" y="588" width="1" height="4"/>
<rect x="364" y="588" width="1" height="4"/>
<rect x="369" y="588" width="1" height="4"/>
<rect x="374" y="588" width="1" height="4"/>
<rect x="380" y="588" width="1" height="4"/>
<rect x="385" y="588" width="1" height="14"/>
<rect x="390" y="588" width="1" height="4"/>
<rect x="396" y="588" width="1" height="4"/>
<rect x="401" y="588" width="1" height="4"/>
<rect x="406" y="588" width="1" height="4"/>
<rect x="412" y="588" width="1" height="4"/>
<rect x="417" y="588" width="1" height="4"/>
<rect x="422" y="588" width="1" height="4"/>
<rect x="428" y="588" width="1" height="4"/>
<rect x="433" y="588" width="1" height="4"/>
<rect x="438" y="588" width="1" height="4"/>
<rect x="444" y="588" width="1" height="4"/>
<rect x="449" y="588" width="1" height="14"/>
<rect x="454" y="588" width="1" height="4"/>
<rect x="460" y="588" width="1" height="4"/>
<rect x="465" y="588" width="1" height="4"/>
<rect x="470" y="588" width="1" height="4"/>
<rect x="476" y="588" width="1" height="4"/>
<rect x="481" y="588" width="1" height="4"/>
<rect x="486" y="588" width="1" height="4"/>
<rect x="492" y="588" width="1" height="4"/>
<rect x="497" y="588" width="1" height="4"/>
<rect x="502" y="588" width="1" height="4"/>
<rect x="508" y="588" width="1" height="4"/>
<rect x="513" y="588" width="1" height="14"/>
<rect x="518" y="588" width="1" height="4"/>
<rect x="524" y="588" width="1" height="4"/>
<rect x="529" y="588" width="1" height="4"/>
<rect x="534" y="588" width="1" height="4"/>
<rect x="540" y="588" width="1" height="4"/>
<rect x="545" y="588" width="1" height="4"/>
<rect x="550" y="588" width="1" height="4"/>
<rect x="556" y="588" width="1" height="4"/>
<rect x="561" y="588" width="1" height="4"/>
<rect x="566" y="588" width="1" height="4"/>
<rect x="572" y="588" width="1" height="4"/>
<rect x="577" y="588" width="1" height="14"/>
<rect x="582" y="588" width="1" height="4"/>
<rect x="588" y="588" width="1" height="4"/>
<rect x="593" y="588" width="1" height="4"/>
<rect x="598" y="588" width="1" height="4"/>
<rect x="604" y="588" width="1" height="4"/>
<rect x="609" y="588" width="1" height="4"/>
<rect x="614" y="588" width="1" height="4"/>
<rect x="619" y="588" width="1" height="4"/>
<rect x="625" y="588" width="1" height="4"/>
<rect x="630" y="588" width="1" height="4"/>
<rect x="635" y="588" width="1" height="4"/>
<rect x="641" y="588" width="1" height="14"/>
<rect x="646" y="588" width="1" height="4"/>
<rect x="652" y="588" width="1" height="4"/>
<rect x="657" y="588" width="1" height="4"/>
<rect x="662" y="588" width="1" height="4"/>
<rect x="668" y="588" width="1" height="4"/>
<rect x="673" y="588" width="1" height="4"/>
<rect x="678" y="588" width="1" height="4"/>
<rect x="684" y="588" width="1" height="4"/>
<rect x="689" y="588" width="1" height="4"/>
<rect x="694" y="588" width="1" height="4"/>
<rect x="700" y="588" width="1" height="4"/>
<rect x="705" y="588" width="1" height="14"/>
<rect x="710" y="588" width="1" height="4"/>
<rect x="716" y="588" width="1" height="4"/>
<rect x="721" y="588" width="1" height="4"/>
<rect x="727" y="588" width="1" height="4"/>
<rect x="732" y="588" width="1" height="4"/>
<rect x="737" y="588" width="1" height="4"/>
<rect x="743" y="588" width="1" height="4"/>
<rect x="748" y="588" width="1" height="4"/>
<rect x="753" y="588" width="1" height="4"/>
<rect x="758" y="588" width="1" height="4"/>
<rect x="764" y="588" width="1" height="4"/>
<rect x="769" y="588" width="1" height="14"/>
<rect x="774" y="588" width="1" height="4"/>
<rect x="779" y="588" width="1" height="4"/>
<rect x="785" y="588" width="1" height="4"/>
<rect x="790" y="588" width="1" height="4"/>
<rect x="795" y="588" width="1" height="4"/>
<rect x="801" y="588" width="1" height="4"/>
<rect x="806" y="588" width="1" height="4"/>
<rect x="811" y="588" width="1" height="4"/>
<rect x="817" y="588" width="1" height="4"/>
<rect x="822" y="588" width="1" height="4"/>
<rect x="827" y="588" width="1" height="4"/>
<rect x="833" y="588" width="1" height="14"/>
<rect x="838" y="588" width="1" height="4"/>
<rect x="843" y="588" width="1" height="4"/>
<rect x="849" y="588" width="1" height="4"/>
<rect x="854" y="588" width="1" height="4"/>
<rect x="860" y="588" width="1" height="4"/>
<rect x="865" y="588" width="1" height="4"/>
<rect x="870" y="588" width="1" height="4"/>
<rect x="876" y="588" width="1" height="4"/>
<rect x="881" y="588" width="1" height="4"/>
<rect x="886" y="588" width="1" height="4"/>
<rect x="892" y="588" width="1" height="4"/>
<rect x="897" y="588" width="1" height="14"/>
<rect x="902" y="588" width="1" height="4"/>
<rect x="908" y="588" width="1" height="4"/>
<rect x="913" y="588" width="1" height="4"/>
<rect x="918" y="588" width="1" height="4"/>
<rect x="923" y="588" width="1" height="4"/>
<rect x="929" y="588" width="1" height="4"/>
<rect x="934" y="588" width="1" height="4"/>
<rect x="939" y="588" width="1" height="4"/>
<rect x="944" y="588" width="1" height="4"/>
<rect x="950" y="588" width="1" height="4"/>
<rect x="955" y="588" width="1" height="4"/>
<rect x="960" y="588" width="1" height="14"/>
<rect x="966" y="588" width="1" height="4"/>
<rect x="971" y="588" width="1" height="4"/>
<rect x="977" y="588" width="1" height="4"/>
<rect x="982" y="588" width="1" height="4"/>
<rect x="987" y="588" width="1" height="4"/>
<rect x="993" y="588" width="1" height="4"/>
<rect x="998" y="588" width="1" height="4"/>
<rect x="1003" y="588" width="1" height="4"/>
<rect x="1009" y="588" width="1" height="4"/>
<rect x="1014" y="588" width="1" height="4"/>
<rect x="1019" y="588" width="1" height="4"/>
<rect x="1025" y="588" width="1" height="14"/>
<rect x="1030" y="588" width="1" height="4"/>
<rect x="1035" y="588" width="1" height="4"/>
<rect x="1041" y="588" width="1" height="4"/>
<rect x="1046" y="588" width="1" height="4"/>
<rect x="1052" y="588" width="1" height="4"/>
<rect x="1057" y="588" width="1" height="4"/>
<rect x="1062" y="588" width="1" height="4"/>
<rect x="1067" y="588" width="1" height="4"/>
<rect x="1073" y="588" width="1" height="4"/>
<rect x="1078" y="588" width="1" height="4"/>
<rect x="1083" y="588" width="1" height="4"/>
<rect x="1088" y="588" width="1" height="14"/>
<rect x="1094" y="588" width="1" height="4"/>
<rect x="1099" y="588" width="1" height="4"/>
<rect x="1104" y="588" width="1" height="4"/>
<rect x="1110" y="588" width="1" height="4"/>
<rect x="1115" y="588" width="1" height="4"/>
<rect x="1120" y="588" width="1" height="4"/>
<rect x="1126" y="588" width="1" height="4"/>
<rect x="1131" y="588" width="1" height="4"/>
<rect x="1136" y="588" width="1" height="4"/>
<rect x="1142" y="588" width="1" height="4"/>
<rect x="1147" y="588" width="1" height="4"/>
<rect x="1152" y="588" width="1" height="14"/>
<rect x="1158" y="588" width="1" height="4"/>
<rect x="1163" y="588" width="1" height="4"/>
<rect x="1168" y="588" width="1" height="4"/>
<rect x="1174" y="588" width="1" height="4"/>
<rect x="1179" y="588" width="1" height="4"/>
<rect x="1185" y="588" width="1" height="4"/>
<rect x="1190" y="588" width="1" height="4"/>
<rect x="1195" y="588" width="1" height="4"/>
<rect x="1201" y="588" width="1" height="4"/>
<rect x="1206" y="588" width="1" height="4"/>
<rect x="1211" y="588" width="1" height="4"/>
<rect x="1217" y="588" width="1" height="14"/>
<rect x="1222" y="588" width="1" height="4"/>
<rect x="1227" y="588" width="1" height="4"/>
<rect x="1232" y="588" width="1" height="4"/>
<rect x="1238" y="588" width="1" height="4"/>
<rect x="1243" y="588" width="1" height="4"/>
<rect x="1248" y="588" width="1" height="4"/>
<rect x="1254" y="588" width="1" height="4"/>
<rect x="1259" y="588" width="1" height="4"/>
<rect x="1264" y="588" width="1" height="4"/>
<rect x="1269" y="588" width="1" height="4"/>
<rect x="1275" y="588" width="1" height="4"/>
<rect x="1280" y="588" width="1" height="14"/>
<rect x="1285" y="588" width="1" height="4"/>
<rect x="1291" y="588" width="1" height="4"/>
<rect x="1296" y="588" width="1" height="4"/>
<rect x="1300" y="586" width="3" height="1"/>
<rect x="1300" y="534" width="6" height="1"/>
<rect x="1300" y="491" width="3" height="1"/>
<rect x="1300" y="453" width="6" height="1"/>
<rect x="1300" y="420" width="3" height="1"/>
<rect x="1300" y="390" width="6" height="1"/>
<rect x="1300" y="363" width="3" height="1"/>
<rect x="1300" y="338" width="6" height="1"/>
<rect x="1300" y="316" width="3" height="1"/>
<rect x="1300" y="295" width="6" height="1"/>
<rect x="1300" y="275" width="3" height="1"/>
<rect x="1300" y="257" width="6" height="1"/>
<rect x="1300" y="240" width="3" height="1"/>
<rect x="1300" y="224" width="6" height="1"/>
<rect x="1300" y="209" width="3" height="1"/>
<rect x="1300" y="194" width="6" height="1"/>
<rect x="1300" y="180" width="3" height="1"/>
<rect x="1300" y="167" width="6" height="1"/>
<rect x="1300" y="155" width="3" height="1"/>
<rect x="1300" y="143" width="6" height="1"/>
<rect x="1300" y="131" width="3" height="1"/>
<rect x="1300" y="120" width="6" height="1"/>
<rect x="1300" y="109" width="3" height="1"/>
<rect x="1300" y="99" width="6" height="1"/>
<rect x="1300" y="89" width="3" height="1"/>
<rect x="1300" y="80" width="6" height="1"/>
<rect x="1300" y="70" width="3" height="1"/>
<rect x="1300" y="62" width="6" height="1"/>
<rect x="1300" y="53" width="3" height="1"/>
<rect x="1300" y="44" width="6" height="1"/>
<rect x="1300" y="36" width="3" height="1"/>
<rect x="1300" y="28" width="6" height="1"/>
<rect x="1300" y="20" width="3" height="1"/>
<rect x="1300" y="13" width="6" height="1"/>
<rect x="1300" y="5" width="3" height="1"/>
</g>
<text x="1334" y="538.2" text-anchor="end">3000</text>
<text x="1334" y="457.2" text-anchor="end">4000</text>
<text x="1334" y="394.2" text-anchor="end">5000</text>
<text x="1334" y="342.2" text-anchor="end">6000</text>
<text x="1334" y="299.2" text-anchor="end">7000</text>
<text x="1334" y="261.2" text-anchor="end">8000</text>
<text x="1334" y="228.2" text-anchor="end">9000</text>
<text x="1334" y="198.2" text-anchor="end">10000</text>
<text x="1334" y="171.2" text-anchor="end">11000</text>
<text x="1334" y="147.2" text-anchor="end">12000</text>
<text x="1334" y="124.2" text-anchor="end">13000</text>
<text x="1334" y="103.2" text-anchor="end">14000</text>
<text x="1334" y="84.2" text-anchor="end">15000</text>
<text x="1334" y="66.2" text-anchor="end">16000</text>
<text x="1334" y="48.2" text-anchor="end">17000</text>
<text x="1334" y="32.2" text-anchor="end">18000</text>
<text x="1334" y="17.2" text-anchor="end">19000</text>
<text x="4.0" y="601" clip-path="url(#cx)">1995</text>
<text x="68.0" y="601" clip-path="url(#cx)">1996</text>
<text x="132.0" y="601" clip-path="url(#cx)">1997</text>
<text x="195.0" y="601" clip-path="url(#cx)">1998</text>
<text x="260.0" y="601" clip-path="url(#cx)">1999</text>
<text x="322.4" y="601" clip-path="url(#cx)">2000</text>
<text x="386.4" y="601" clip-path="url(#cx)">2001</text>
<text x="450.4" y="601" clip-path="url(#cx)">2002</text>
<text x="514.4" y="601" clip-path="url(#cx)">2003</text>
<text x="578.4" y="601" clip-path="url(#cx)">2004</text>
<text x="642.4" y="601" clip-path="url(#cx)">2005</text>
<text x="706.4" y="601" clip-path="url(#cx)">2006</text>
<text x="770.4" y="601" clip-path="url(#cx)">2007</text>
<text x="834.4" y="601" clip-path="url(#cx)">2008</text>
<text x="898.4" y="601" clip-path="url(#cx)">2009</text>
<text x="961.4" y="601" clip-path="url(#cx)">2010</text>
<text x="1026.4" y="601" clip-path="url(#cx)">2011</text>
<text x="1089.4" y="601" clip-path="url(#cx)">2012</text>
<text x="1153.4" y="601" clip-path="url(#cx)">2013</text>
<text x="1218.4" y="601" clip-path="url(#cx)">2014</text>
<text x="1281.4" y="601" clip-path="url(#cx)">2015</text>
<text x="362.8" y="9.8" textLength="573" lengthAdjust="spacing" style="white-space:pre">Lan (8,879.60, 8,155.00, 8,200.00, -421.300), &lt;stop loss hybrid SAR (8,160.20), &lt;media traingular 14 (8,106.91), &lt;Media trianguar  65 (11,411.97)</text>
</svg></body></html>
